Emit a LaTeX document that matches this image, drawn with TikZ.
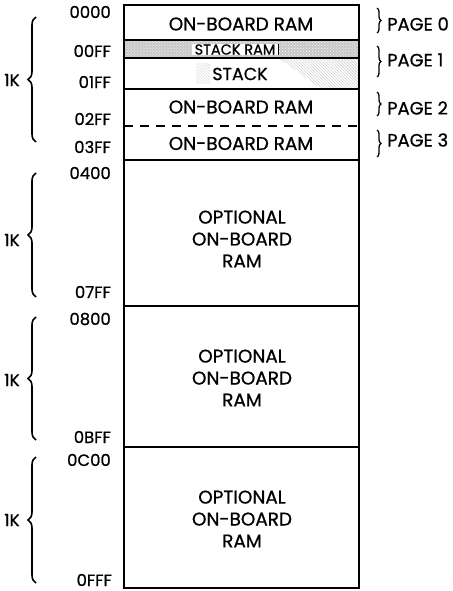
\documentclass[tikz,border=0pt]{standalone}
\usepackage{fontspec}
\setmainfont{Poppins}[FakeBold=0.8]
\usetikzlibrary{decorations.pathreplacing,patterns}
\tikzset{
  boxtxt/.style={font=\fontsize{18.5}{22}\selectfont, inner sep=0pt, align=center},
  addr/.style={font=\fontsize{16.5}{18}\selectfont, inner sep=0pt, anchor=east},
  pagetxt/.style={font=\fontsize{18}{20}\selectfont, inner sep=0pt, anchor=west},
  ktxt/.style={font=\fontsize{17}{19}\selectfont, inner sep=0pt},
  outline/.style={line width=1.4bp},
  bigbrace/.style={decorate, decoration={brace, amplitude=8bp, aspect=0.5}, line width=1.6bp},
  smallbrace/.style={decorate, decoration={brace, amplitude=4bp, aspect=0.5}, line width=1.3bp},
}
\begin{document}
\begin{tikzpicture}[x=1bp, y=-1bp]
\useasboundingbox (0,0) rectangle (453,591);
% stack ram band
\fill[gray!45] (124,41) rectangle (359,58);
\fill[pattern=crosshatch dots, pattern color=white] (124,41) rectangle (359,58);
% stack hatching
\fill[pattern=north west lines, pattern color=gray!45] (280,59) -- (359,59) -- (359,88) -- (320,88) -- cycle;
\fill[pattern=north west lines, pattern color=gray!35] (196,64) rectangle (210,84);
% memory outline
\draw[outline] (124,5) rectangle (359,588);
\draw[outline] (124,40) -- (359,40);
\draw[line width=2.2bp] (124,58) -- (359,58);
\draw[outline] (124,89) -- (359,89);
\draw[outline, dash pattern=on 9bp off 7bp] (124,126) -- (359,126);
\draw[outline] (124,160) -- (359,160);
\draw[outline] (124,306) -- (359,306);
\draw[outline] (124,447) -- (359,447);
% labels inside
\node[boxtxt] (r0) at (241,24) {ON-BOARD RAM};
\node[fill=white, inner xsep=1bp, inner ysep=0.3bp, minimum width=86bp, font=\fontsize{14.5}{15}\selectfont] (sr) at (235,49.5) {STACK RAM};
\draw[line width=0.9bp] (sr.north east) -- (sr.south east);
\node[boxtxt, fill=white, inner xsep=1bp, font=\fontsize{17.5}{20}\selectfont] (st) at (240,74) {STACK};
\node[boxtxt] (r2) at (241,107) {ON-BOARD RAM};
\node[boxtxt] (r3) at (241,143.5) {ON-BOARD RAM};
\node[boxtxt] (o1) at (242,239) {OPTIONAL\\ON-BOARD\\RAM};
\node[boxtxt] (o2) at (242,378) {OPTIONAL\\ON-BOARD\\RAM};
\node[boxtxt] (o3) at (242,519) {OPTIONAL\\ON-BOARD\\RAM};
% addresses
\node[addr] (a0) at (111,12) {0000};
\node[addr] (a1) at (111,51) {00FF};
\node[addr] (a2) at (111,82) {01FF};
\node[addr] (a3) at (111,119) {02FF};
\node[addr] (a4) at (111,147) {03FF};
\node[addr] (a5) at (111,173) {0400};
\node[addr] (a6) at (111,292) {07FF};
\node[addr] (a7) at (111,319) {0800};
\node[addr] (a8) at (111,437) {0BFF};
\node[addr] (a9) at (111,460) {0C00};
\node[addr] (a10) at (112,580) {0FFF};
% left braces
\coordinate (b1t) at (36,17); \coordinate (b1b) at (36,142);
\coordinate (b2t) at (36,173); \coordinate (b2b) at (36,297);
\coordinate (b3t) at (36,317); \coordinate (b3b) at (36,440);
\coordinate (b4t) at (36,457); \coordinate (b4b) at (36,583);
\draw[bigbrace] (b1b) -- (b1t);
\draw[bigbrace] (b2b) -- (b2t);
\draw[bigbrace] (b3b) -- (b3t);
\draw[bigbrace] (b4b) -- (b4t);
\node[ktxt] (k1) at (12,80) {1K};
\node[ktxt] (k2) at (12,240) {1K};
\node[ktxt] (k3) at (12,380) {1K};
\node[ktxt] (k4) at (12,520) {1K};
% right braces
\coordinate (p0t) at (377,8); \coordinate (p0b) at (377,33);
\coordinate (p1t) at (377,46); \coordinate (p1b) at (377,77);
\coordinate (p2t) at (377,92); \coordinate (p2b) at (377,116);
\coordinate (p3t) at (377,130); \coordinate (p3b) at (377,157);
\draw[smallbrace] (p0t) -- (p0b);
\draw[smallbrace] (p1t) -- (p1b);
\draw[smallbrace] (p2t) -- (p2b);
\draw[smallbrace] (p3t) -- (p3b);
\node[pagetxt] (pg0) at (387,24) {PAGE 0};
\node[pagetxt] (pg1) at (387,60) {PAGE 1};
\node[pagetxt] (pg2) at (387,108) {PAGE 2};
\node[pagetxt] (pg3) at (387,140) {PAGE 3};
\end{tikzpicture}
\end{document}
